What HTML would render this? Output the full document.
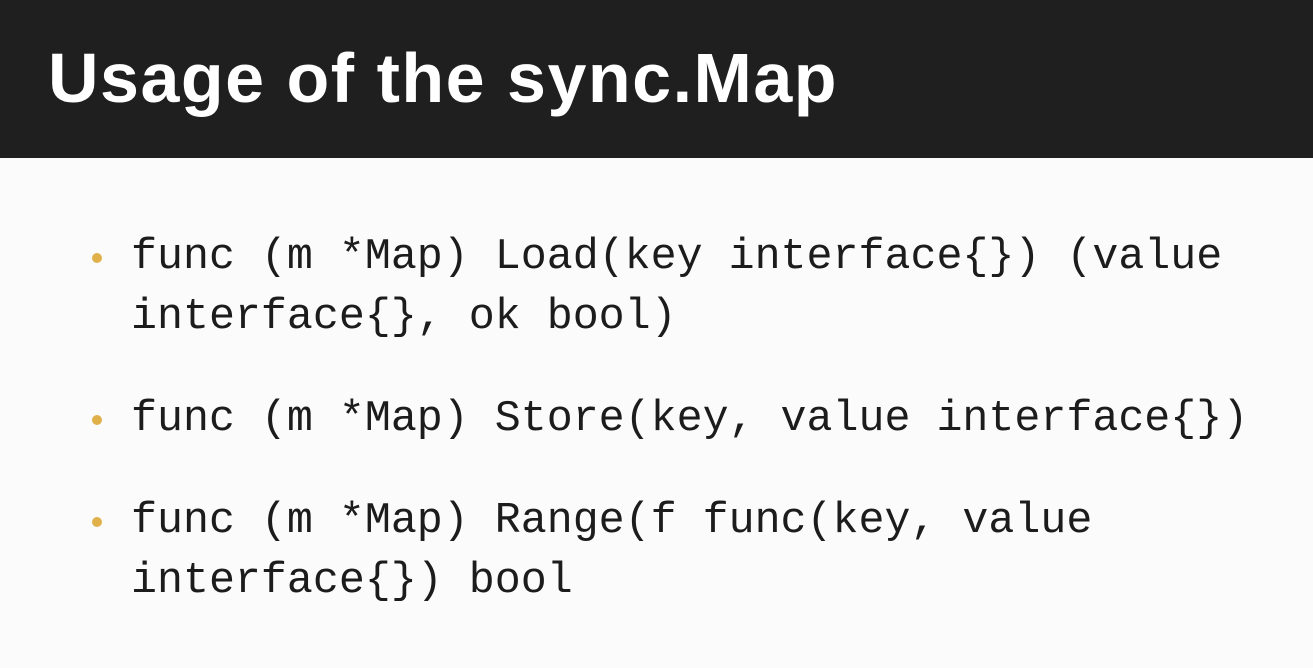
<!DOCTYPE html>
<html><head><meta charset="utf-8"><style>
html,body{margin:0;padding:0;width:1313px;height:668px;overflow:hidden;background:#fbfbfb;}
.hdr{position:absolute;left:0;top:0;width:1313px;height:158px;background:#1f1f1f;}
.title{position:absolute;left:48px;top:36px;font-family:"Liberation Sans",sans-serif;font-weight:bold;font-size:70px;color:#fff;letter-spacing:1.5px;line-height:84px;white-space:nowrap;}
.line{position:absolute;left:131px;font-family:"Liberation Mono",monospace;font-size:43.3px;color:#1c1c1c;white-space:pre;line-height:50px;}
.dot{position:absolute;left:92px;width:10px;height:10px;border-radius:50%;background:#e0b14a;}
</style></head><body>
<div class="hdr"></div>
<div class="title">Usage of the sync.Map</div>
<div class="dot" style="top:253px"></div>
<div class="line" style="top:233px">func (m *Map) Load(key interface{}) (value</div>
<div class="line" style="top:293px">interface{}, ok bool)</div>
<div class="dot" style="top:415px"></div>
<div class="line" style="top:395px">func (m *Map) Store(key, value interface{})</div>
<div class="dot" style="top:517px"></div>
<div class="line" style="top:497px">func (m *Map) Range(f func(key, value</div>
<div class="line" style="top:557px">interface{}) bool</div>
</body></html>
